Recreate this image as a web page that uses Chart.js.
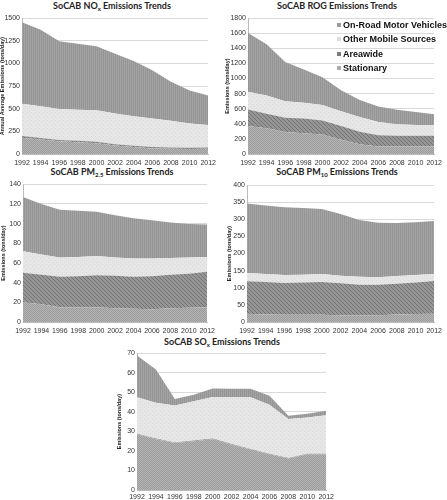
<!DOCTYPE html>
<html>
<head>
<meta charset="utf-8">
<script src="https://cdn.jsdelivr.net/npm/chart.js@4"></script>
<style>
  body { margin:0; background:#fff; width:447px; height:500px; position:relative; overflow:hidden; font-family:'Liberation Sans', Arial, sans-serif; }
  canvas { position:absolute; }
  .ttl { position:absolute; font-family:Lato, 'Open Sans', sans-serif; font-weight:bold; font-size:9px; color:#222; white-space:nowrap; transform:translateX(-50%); }
  .ttl sub { font-size:6px; vertical-align:-2px; }
  .lg { position:absolute; left:337px; font-weight:bold; font-size:9px; color:#111; white-space:nowrap; }
  .lg span { display:inline-block; width:4px; height:4px; margin-right:2px; vertical-align:1px; }
</style>
</head>
<body>
<div class="ttl" style="left:112px;top:0px">SoCAB NO<sub>x</sub> Emissions Trends</div>
<div class="ttl" style="left:337px;top:0px">SoCAB ROG Emissions Trends</div>
<div class="ttl" style="left:112px;top:166px">SoCAB PM<sub>2.5</sub> Emissions Trends</div>
<div class="ttl" style="left:337px;top:166px">SoCAB PM<sub>10</sub> Emissions Trends</div>
<div class="ttl" style="left:222px;top:336px">SoCAB SO<sub>x</sub> Emissions Trends</div>

<canvas id="c-nox" width="222" height="155" style="left:-1px;top:12px"></canvas>
<canvas id="c-rog" width="223" height="155" style="left:224px;top:12px"></canvas>
<canvas id="c-pm25" width="220" height="157" style="left:0;top:178px"></canvas>
<canvas id="c-pm10" width="221" height="157" style="left:226px;top:178px"></canvas>
<canvas id="c-sox" width="221" height="153" style="left:116px;top:347px"></canvas>

<div class="lg" style="top:20px"><span style="background:#9a9a9a"></span>On-Road Motor Vehicles</div>
<div class="lg" style="top:34px"><span style="background:#dcdcdc"></span>Other Mobile Sources</div>
<div class="lg" style="top:49px"><span style="background:#7a7a7a"></span>Areawide</div>
<div class="lg" style="top:63px"><span style="background:#acacac"></span>Stationary</div>

<script>
// --- Data (tons/day) ---
const years = ['1992','1994','1996','1998','2000','2002','2004','2006','2008','2010','2012'];

const noxStationary = [180,160,140,130,120,95,78,62,58,55,57];
const noxAreawide   = [20,18,16,15,14,14,13,14,15,14,16];
const noxOtherMob   = [356,349,342,345,349,338,327,316,294,269,247];
const noxOnRoad     = [900,846,748,727,708,661,610,534,432,363,326];

const rogStationary = [370,340,290,275,260,190,130,100,100,100,100];
const rogAreawide   = [220,195,190,195,185,180,165,150,143,143,143];
const rogOtherMob   = [235,240,218,210,203,195,195,175,152,140,140];
const rogOnRoad     = [780,680,520,440,370,280,225,205,190,175,145];

const pm25Stationary = [20,18,15,15,15,14,13.5,13,14,14.5,15];
const pm25Areawide   = [30,30,31,31.5,32.5,33,32.5,33.5,34,34.5,36];
const pm25OtherMob   = [22,20.5,19.5,19.5,19.5,18.5,18.5,18,17,16.5,15];
const pm25OnRoad     = [55,51.5,48.5,47,45,43,41,39,36,34,33];

const pm10Stationary = [24,22,21,21,21,20,20,20,22,23,24];
const pm10Areawide   = [95,95,93,94,96,93,89,89,90,92,96];
const pm10OtherMob   = [24,23,23,23,23,22,23,22,22,22,20];
const pm10OnRoad     = [203,200,198,195,190,180,166,159,155,154,155];

const soxStationary = [28.5,26,24,25,26,23.2,20.7,18.3,16.1,18.3,18.3];
const soxAreawide   = [0.3,0.3,0.3,0.3,0.3,0.3,0.3,0.3,0.3,0.3,0.3];
const soxOtherMob   = [18.6,18.3,18.9,20.1,21.3,23.9,26.4,25,19.9,18.5,19.6];
const soxOnRoad     = [21.4,17,3.4,3.4,4.4,4.4,4.4,4.6,1.7,1.9,2.3];

// --- Fill textures ---
function pattern(kind) {
    const c = document.createElement('canvas');
    c.width = 4; c.height = 4;
    const g = c.getContext('2d');
    if(kind==='onroad') {
        g.fillStyle = '#a4a4a4'; g.fillRect(0,0,4,4);
        g.fillStyle = '#949494'; g.fillRect(0,0,1,4); g.fillRect(2,0,1,4);
    } else if(kind==='other') {
        g.fillStyle = '#e6e6e6'; g.fillRect(0,0,4,4);
        g.fillStyle = '#d8d8d8'; g.fillRect(0,0,1,1); g.fillRect(2,2,1,1);
    } else if(kind==='area') {
        g.fillStyle = '#969696'; g.fillRect(0,0,4,4);
        g.fillStyle = '#727272';
        for(let i=0;i<4;i++) g.fillRect(i,i,1,1);
    } else {
        g.fillStyle = '#b4b4b4'; g.fillRect(0,0,4,4);
        g.fillStyle = '#9c9c9c';
        g.fillRect(0,0,1,1); g.fillRect(2,0,1,1); g.fillRect(1,1,1,1); g.fillRect(3,1,1,1);
        g.fillRect(0,2,1,1); g.fillRect(2,2,1,1); g.fillRect(1,3,1,1); g.fillRect(3,3,1,1);
    }
    return g.createPattern(c, 'repeat');
}

function layer(data, kind, fill) {
    return { data, fill, backgroundColor: pattern(kind), borderColor:'rgba(0,0,0,0)', borderWidth:0, pointRadius:0 };
}

function makeChart(id, st, ar, om, orv, max, step, yTitle, d) {
    new Chart(document.getElementById(id), {
        type:'line',
        data:{ labels:years, datasets:[
            layer(st,'stat','origin'),
            layer(ar,'area','-1'),
            layer(om,'other','-1'),
            layer(orv,'onroad','-1')
        ]},
        options:{
            responsive:false, animation:false,
            layout:{ padding:{ top:d.top, right:d.right, left:0, bottom:0 } },
            plugins:{ legend:{display:false}, tooltip:{enabled:false} },
            elements:{ line:{ tension:0 } },
            scales:{
                x:{
                    grid:{ display:false, drawTicks:false },
                    border:{ color:'#bdbdbd' },
                    ticks:{ font:{size:7, family:"'Liberation Sans', Arial"}, color:'#333', padding:d.xpad, maxRotation:0, autoSkip:false },
                    afterFit:s=>{ s.height = d.xh; }
                },
                y:{
                    stacked:true, min:0, max,
                    ticks:{ stepSize:step, font:{size:7, family:"'Liberation Sans', Arial"}, color:'#333', padding:2,
                            callback:v=>String(v) },
                    grid:{ color:'#d9d9d9', drawTicks:false },
                    border:{ color:'#bdbdbd' },
                    title:{ display:true, text:yTitle, color:'#222', padding:0, font:{size:5.5, weight:'bold', family:"'Liberation Sans', Arial"} },
                    afterFit:s=>{ s.width = d.yw; }
                }
            }
        }
    });
}

window.onload = () => {
    makeChart('c-nox', noxStationary, noxAreawide, noxOtherMob, noxOnRoad, 1500, 250,
        'Annual Average Emissions (tons/day)', {top:5, right:8, yw:23, xh:13, xpad:5});
    makeChart('c-rog', rogStationary, rogAreawide, rogOtherMob, rogOnRoad, 1800, 200,
        'Emissions (tons/day)', {top:4, right:9, yw:24, xh:13, xpad:5});
    makeChart('c-pm25', pm25Stationary, pm25Areawide, pm25OtherMob, pm25OnRoad, 140, 20,
        'Emissions (tons/day)', {top:6, right:7, yw:23, xh:13, xpad:5});
    makeChart('c-pm10', pm10Stationary, pm10Areawide, pm10OtherMob, pm10OnRoad, 400, 50,
        'Emissions (tons/day)', {top:7, right:9, yw:21, xh:13, xpad:5});
    makeChart('c-sox', soxStationary, soxAreawide, soxOtherMob, soxOnRoad, 70, 10,
        'Emissions (tons/day)', {top:6, right:7, yw:21, xh:10, xpad:3});
};
</script>
</body>
</html>
